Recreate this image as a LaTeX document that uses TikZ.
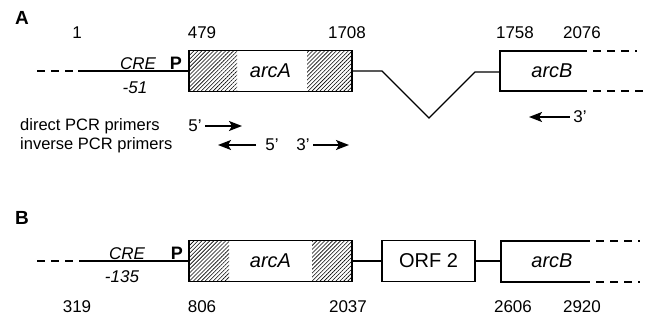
\documentclass[tikz,border=0pt]{standalone}
\usepackage{fontspec}
\setmainfont{Liberation Sans}
\usetikzlibrary{arrows.meta,patterns.meta}

\tikzset{
  dna/.style={line width=1.4pt},
  dnadash/.style={line width=1.4pt, dash pattern=on 8pt off 6pt},
  gene/.style={draw, line width=1.4pt, minimum height=41pt, inner sep=0pt,
    font=\fontsize{20}{24}\selectfont},
  hatch/.style={pattern={Lines[angle=45,distance=2.8pt,line width=0.6pt]}},
  num/.style={font=\fontsize{17}{20}\selectfont},
  txt/.style={font=\fontsize{16.5}{20}\selectfont, anchor=west, inner sep=0pt},
  cre/.style={font=\fontsize{17}{20}\selectfont\itshape},
  prom/.style={font=\fontsize{18}{20}\selectfont\bfseries, anchor=base},
  panel/.style={font=\fontsize{19}{22}\selectfont\bfseries},
  primer/.style={line width=1.5pt, -{Stealth[length=13pt,width=10pt,inset=3pt]}},
}

\begin{document}
\begin{tikzpicture}[x=1pt,y=-1pt]
  \useasboundingbox (0,0) rectangle (654,320);
  % panel A
  \node[panel] (pa) at (22,18) {A};
  \node[num] (a1) at (77,33) {1};
  \node[num] (a479) at (202,33) {479};
  \node[num] (a1708) at (347,33) {1708};
  \node[num] (a1758) at (515,33) {1758};
  \node[num] (a2076) at (582,33) {2076};
  \fill[hatch] (189,51) rectangle (237,92);
  \fill[hatch] (307,51) rectangle (352,92);
  \node[gene, minimum width=163pt] (arcA) at (270.5,71) {\itshape arcA};
  \coordinate (dA) at (37,71);
  \coordinate (sA) at (78,71);
  \draw[dnadash] (dA) -- (sA);
  \draw[dna] (sA) -- (arcA.west |- sA);
  \node[cre, anchor=base] (creA) at (138,70) {CRE};
  \node[cre] (posA) at (135,88) {-51};
  \node[prom] (pA) at (176,70) {P};
  % intron
  \coordinate (kA) at (382,71);
  \coordinate (vA) at (429,118);
  \coordinate (kB) at (475,72);
  \coordinate (bA) at (500,72);
  \draw[dna] (arcA.east |- kA) -- (kA) -- (vA) -- (kB) -- (bA);
  \node[gene, draw=none, minimum width=50pt] (arcB) at (552,71) {\itshape arcB};
  \draw[dna] (579,51) -- (500,51) -- (500,91) -- (579,91);
  \draw[dnadash] (579,51) -- (637,51);
  \draw[dnadash] (579,91) -- (647,91);
  % primers
  \node[txt] (dir) at (20,126) {direct PCR primers};
  \node[num] (d5) at (195,126) {5'};
  \coordinate (d5e) at (242,126);
  \draw[primer] (d5.east) -- (d5e);
  \node[txt] (inv) at (20,145) {inverse PCR primers};
  \node[num] (i5) at (272,145) {5'};
  \coordinate (i5s) at (256,145);
  \coordinate (i5e) at (218,145);
  \draw[primer] (i5s) -- (i5e);
  \node[num] (i3) at (303,145) {3'};
  \coordinate (i3e) at (349,145);
  \draw[primer] (i3.east) -- (i3e);
  \node[num] (b3) at (580,117) {3'};
  \coordinate (b3e) at (529,117);
  \draw[primer] (b3.west) -- (b3e);
  % panel B
  \node[panel] (pb) at (22,218) {B};
  \fill[hatch] (189,241) rectangle (229,282);
  \fill[hatch] (312,241) rectangle (352,282);
  \node[gene, minimum width=163pt] (arcA2) at (270.5,261) {\itshape arcA};
  \coordinate (dB) at (37,261);
  \coordinate (sB) at (80,261);
  \draw[dnadash] (dB) -- (sB);
  \draw[dna] (sB) -- (arcA2.west |- sB);
  \node[cre, anchor=base] (creB) at (127,260) {CRE};
  \node[cre] (posB) at (122,277) {-135};
  \node[prom] (pB) at (177,260) {P};
  \node[gene, minimum width=93pt] (orf) at (428.5,261) {ORF 2};
  \draw[dna] (arcA2) -- (orf);
  \coordinate (bB) at (501,261);
  \draw[dna] (orf.east |- bB) -- (bB);
  \node[gene, draw=none, minimum width=50pt] (arcB2) at (552,261) {\itshape arcB};
  \draw[dna] (582,241) -- (501,241) -- (501,282) -- (582,282);
  \draw[dnadash] (582,241) -- (640,241);
  \draw[dnadash] (582,282) -- (640,282);
  \node[num] (b319) at (77,307) {319};
  \node[num] (b806) at (202,307) {806};
  \node[num] (b2037) at (348,307) {2037};
  \node[num] (b2606) at (513,307) {2606};
  \node[num] (b2920) at (582,307) {2920};
\end{tikzpicture}
\end{document}
